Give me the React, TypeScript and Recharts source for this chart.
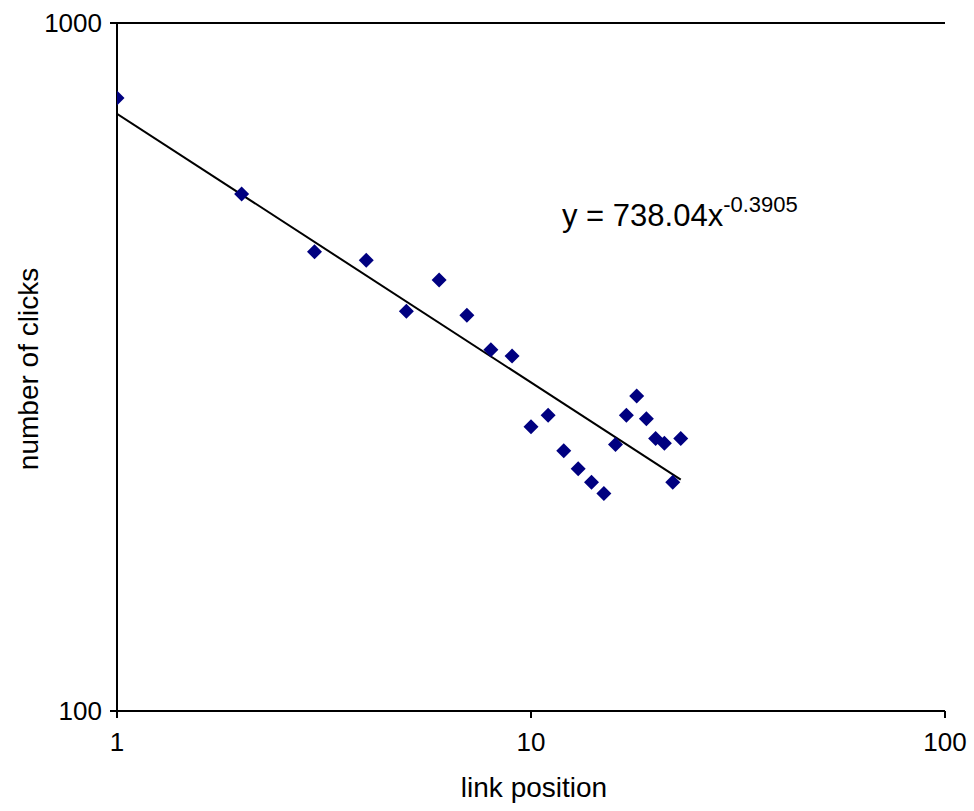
import { ScatterChart, Scatter, XAxis, YAxis, CartesianGrid } from 'recharts';

const positions = [1, 2, 3, 4, 5, 6, 7, 8, 9, 10, 11, 12, 13, 14, 15, 16, 17, 18, 19, 20, 21, 22, 23];
const clicks = [778, 564, 465, 452, 381, 423, 376, 335, 328, 259, 269, 239, 225, 215, 207, 244, 269, 287, 266, 249, 245, 215, 249];

// power trendline end points, y = 738.04x^-0.3905
const trendX = [1, 23];
const trendY = [738.04, 216.9];

const xTicks = [1, 10, 100];
const yTicks = [100, 1000];

const points = positions.map((x, i) => ({ x, y: clicks[i] }));
const trend = trendX.map((x, i) => ({ x, y: trendY[i] }));

const FONT = '"Liberation Sans", Arial, sans-serif';

const Diamond = (props: { cx?: number; cy?: number }) => {
  const { cx = 0, cy = 0 } = props;
  const r = 7.5;
  return (
    <polygon
      points={`${cx},${cy - r} ${cx + r},${cy} ${cx},${cy + r} ${cx - r},${cy}`}
      fill="#000080"
    />
  );
};

const NoShape = () => <g />;

const XLabel = () => (
  <text x={534} y={797} textAnchor="middle" fontSize={28} fontFamily={FONT} fill="#000">
    link position
  </text>
);

const YLabel = () => (
  <text
    x={38}
    y={369}
    textAnchor="middle"
    fontSize={28}
    fontFamily={FONT}
    fill="#000"
    transform="rotate(-90, 38, 369)"
  >
    number of clicks
  </text>
);

const App = () => {
  return (
    <div style={{ position: 'absolute', left: 0, top: 0, width: 974, height: 811, background: '#fff' }}>
      <ScatterChart width={974} height={811} margin={{ top: 23, right: 29, bottom: 0, left: 0 }}>
        <CartesianGrid horizontal vertical={false} stroke="#000" strokeWidth={2} />
        <XAxis
          type="number"
          dataKey="x"
          scale="log"
          domain={[1, 100]}
          ticks={xTicks}
          allowDataOverflow
          height={100}
          stroke="#000"
          strokeWidth={2}
          tickSize={7}
          tickMargin={15}
          tick={{ fill: '#000', fontSize: 26, fontFamily: FONT }}
          label={<XLabel />}
        />
        <YAxis
          type="number"
          dataKey="y"
          scale="log"
          domain={[100, 1000]}
          ticks={yTicks}
          allowDataOverflow
          width={117}
          stroke="#000"
          strokeWidth={2}
          tickSize={7}
          tickMargin={8}
          tick={{ fill: '#000', fontSize: 26, fontFamily: FONT }}
          label={<YLabel />}
        />
        <Scatter
          data={trend}
          line={{ stroke: '#000', strokeWidth: 2 }}
          lineType="joint"
          shape={<NoShape />}
          isAnimationActive={false}
        />
        <Scatter data={points} shape={<Diamond />} isAnimationActive={false} />
      </ScatterChart>
      <svg
        width={974}
        height={811}
        style={{ position: 'absolute', left: 0, top: 0, pointerEvents: 'none' }}
      >
        <text x={562} y={226} fontSize={31} fontFamily={FONT} fill="#000">
          y = 738.04x
          <tspan fontSize={22} dy={-14}>-0.3905</tspan>
        </text>
      </svg>
    </div>
  );
};

export default App;
